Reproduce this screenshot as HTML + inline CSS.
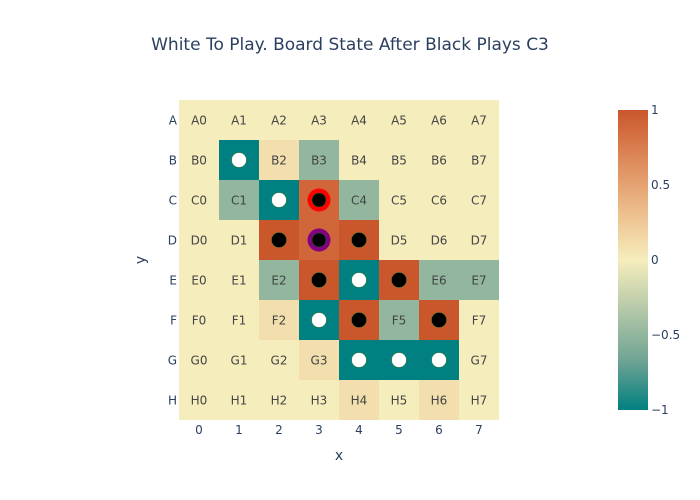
<!DOCTYPE html>
<html><head><meta charset="utf-8"><style>
body{margin:0;background:#fff;}
svg{display:block;font-family:"DejaVu Sans","Liberation Sans",sans-serif;}
</style></head><body>
<svg id="c" width="700" height="500" xmlns="http://www.w3.org/2000/svg">
<defs><linearGradient id="cg" x1="0" y1="1" x2="0" y2="0">
<stop offset="0" stop-color="rgb(0,128,128)"/><stop offset="0.1667" stop-color="rgb(112,164,148)"/>
<stop offset="0.3333" stop-color="rgb(180,200,168)"/><stop offset="0.5" stop-color="rgb(246,237,189)"/>
<stop offset="0.6667" stop-color="rgb(237,187,138)"/><stop offset="0.8333" stop-color="rgb(222,138,90)"/>
<stop offset="1" stop-color="rgb(202,86,44)"/></linearGradient></defs>
<text x="350" y="50" text-anchor="middle" font-size="17" fill="#2a3f5f">White To Play. Board State After Black Plays C3</text>
<g id="cells"></g>
<g id="axes"></g>
<rect x="618" y="110" width="30" height="300" fill="url(#cg)"/>
<g font-size="12" fill="#2a3f5f">
<text x="651" y="114">1</text>
<text x="651" y="189">0.5</text>
<text x="651" y="264">0</text>
<text x="651" y="339">−0.5</text>
<text x="651" y="414">−1</text>
</g>
<text x="339" y="460" text-anchor="middle" font-size="14" fill="#2a3f5f">x</text>
<text x="145" y="260" text-anchor="middle" font-size="14" fill="#2a3f5f" transform="rotate(-90 145 260)">y</text>
</svg>
<script>
const rows=["A","B","C","D","E","F","G","H"];
const cols=[0,1,2,3,4,5,6,7];
const values=[
[0,0,0,0,0,0,0,0],
[0,-1,0.1,-0.5,0,0,0,0],
[0,-0.5,-1,0.9,-0.5,0,0,0],
[0,0,1,0.9,1,0,0,0],
[0,0,-0.5,1,-1,1,-0.5,-0.5],
[0,0,0.1,-1,1,-0.5,1,0],
[0,0,0,0.1,-1,-1,-1,0],
[0,0,0,0,0.1,0,0.1,0]];
const stones=[
"........",
".W......",
"..WB....",
"..BBB...",
"...BWB..",
"...WB.B.",
"....WWW.",
"........"];
const rings=[{r:2,c:3,color:"#ff0000"},{r:3,c:3,color:"#800080"}];
const stops=[[0,0,128,128],[1/6,112,164,148],[2/6,180,200,168],[0.5,246,237,189],[4/6,237,187,138],[5/6,222,138,90],[1,202,86,44]];
function color(v){const t=(v+1)/2;for(let i=1;i<stops.length;i++){if(t<=stops[i][0]){const a=stops[i-1],b=stops[i];const f=(t-a[0])/(b[0]-a[0]);return `rgb(${[1,2,3].map(k=>Math.round(a[k]+(b[k]-a[k])*f)).join(",")})`;}}return "rgb(202,86,44)";}
const X0=179,Y0=100,S=40;
const xs=c=>X0+c*S, ys=r=>Y0+r*S;
const NS="http://www.w3.org/2000/svg";
const g=document.getElementById("cells"), ax=document.getElementById("axes");
function mk(tag,attrs,parent){const e=document.createElementNS(NS,tag);for(const k in attrs)e.setAttribute(k,attrs[k]);parent.appendChild(e);return e;}
rows.forEach((rn,r)=>cols.forEach((cn,c)=>{
 const rect=mk("rect",{x:xs(c),y:ys(r),width:S,height:S,fill:color(values[r][c])},g);
 
 
 const s=stones[r][c];
 if(s==="."){
  const t=mk("text",{x:xs(c)+S/2,y:ys(r)+S/2+4.5,"text-anchor":"middle","font-size":"12",fill:"#444"},g);
  t.textContent=rn+cn;
  
  
 }else{
  const ring=rings.find(o=>o.r===r&&o.c===c);
  if(ring){const rr=mk("circle",{cx:xs(c)+S/2,cy:ys(r)+S/2,r:11.5,fill:ring.color},g);
   
   }
  const st=mk("circle",{cx:xs(c)+S/2,cy:ys(r)+S/2,r:ring?7:7.5,fill:s==="W"?"#fff":"#000",stroke:"#2a6f2a","stroke-width":"0.5"},g);
  
  
 }
}));
cols.forEach((cn,c)=>{const t=mk("text",{x:xs(c)+S/2,y:434,"text-anchor":"middle","font-size":"12",fill:"#2a3f5f"},ax);t.textContent=cn;
 
 });
rows.forEach((rn,r)=>{const t=mk("text",{x:177,y:ys(r)+S/2+4.5,"text-anchor":"end","font-size":"12",fill:"#2a3f5f"},ax);t.textContent=rn;
 
 });
</script>
</body></html>
